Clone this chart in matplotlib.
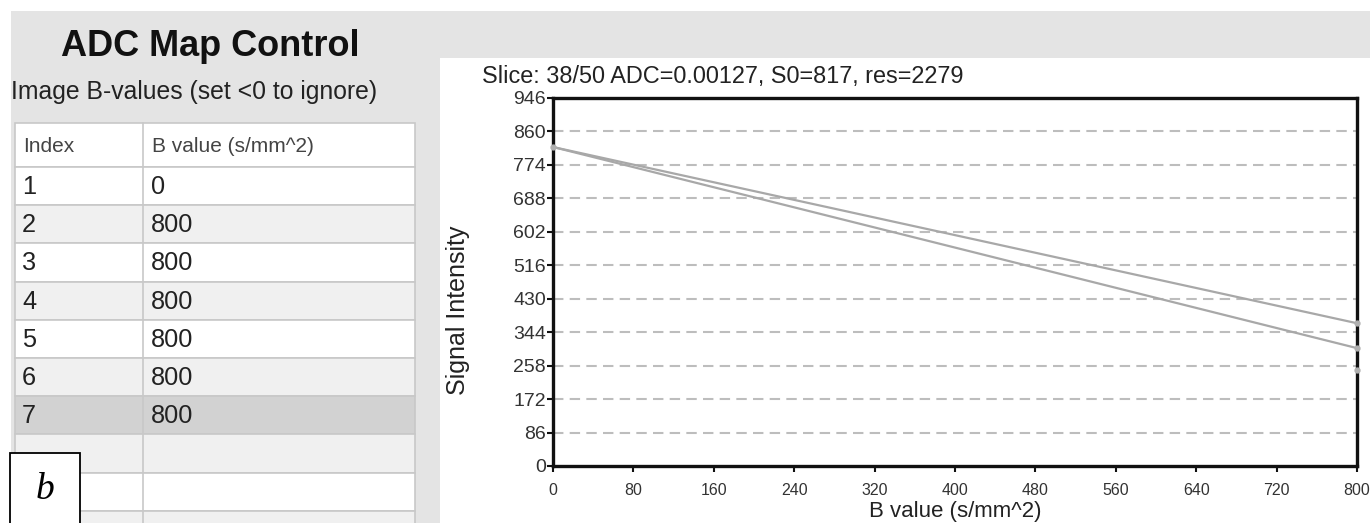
import numpy as np
import matplotlib.pyplot as plt
from matplotlib.patches import Rectangle

# table values
row_index = ['1', '2', '3', '4', '5', '6', '7']
b_values = [0, 800, 800, 800, 800, 800, 800]
selected_row = 7
n_empty_rows = 3

# chart values
b_points = [0, 800, 800, 800]
signal_points = [820, 367, 303, 247]
b_line = [0, 800]
signal_measured = [820, 367]
signal_fit = [820, 303]
y_ticks = [0, 86, 172, 258, 344, 430, 516, 602, 688, 774, 860, 946]
x_ticks = [0, 80, 160, 240, 320, 400, 480, 560, 640, 720, 800]
chart_title = 'Slice: 38/50 ADC=0.00127, S0=817, res=2279'

W, H = 1370, 523
plt.rcParams['font.family'] = ['Liberation Sans', 'DejaVu Sans']

fig = plt.figure(figsize=(W / 100, H / 100), dpi=100, facecolor='white')

# background in pixel coordinates
bg = fig.add_axes([0, 0, 1, 1])
bg.set_xlim(0, W)
bg.set_ylim(H, 0)
bg.axis('off')

bg.add_patch(Rectangle((11, 11), W - 11, H - 11, facecolor='#e4e4e4', edgecolor='none'))
bg.add_patch(Rectangle((440, 58), W - 440, H - 58, facecolor='white', edgecolor='none'))

bg.text(210, 46, 'ADC Map Control', fontsize=26, fontweight='bold', ha='center', va='center', color='#111111')
bg.text(11, 92, 'Image B-values (set <0 to ignore)', fontsize=17.8, ha='left', va='center', color='#222222')

# table
tx0, tx1, col_x = 15, 415, 143
hdr_top, hdr_bot = 123, 167
row_h = 38.2
grid_c = '#c8c8c8'

bg.add_patch(Rectangle((tx0, hdr_top), tx1 - tx0, hdr_bot - hdr_top, facecolor='white', edgecolor=grid_c, lw=1.2))
bg.text(23, 146, 'Index', fontsize=15, ha='left', va='center', color='#444444')
bg.text(152, 146, 'B value (s/mm^2)', fontsize=15, ha='left', va='center', color='#444444')

n_rows = len(row_index) + n_empty_rows
for i in range(n_rows):
    top = hdr_bot + i * row_h
    num = i + 1
    if num == selected_row:
        fc = '#d2d2d2'
    elif num % 2 == 0:
        fc = '#f0f0f0'
    else:
        fc = 'white'
    bg.add_patch(Rectangle((tx0, top), tx1 - tx0, row_h, facecolor=fc, edgecolor=grid_c, lw=1.2))
    if i < len(row_index):
        bg.text(22, top + row_h / 2 + 1, row_index[i], fontsize=18.3, ha='left', va='center', color='#222222')
        bg.text(151, top + row_h / 2 + 1, str(b_values[i]), fontsize=18.3, ha='left', va='center', color='#222222')
bg.plot([col_x, col_x], [hdr_top, H], color=grid_c, lw=1.2)

# panel label
bg.add_patch(Rectangle((10, 453), 70, 80, facecolor='white', edgecolor='black', lw=1.3, zorder=5))
bg.text(45, 490, 'b', fontsize=27, family='Liberation Serif', style='italic', ha='center', va='center', zorder=6)

# chart
left, right, top, bottom = 553, 1357, 98, 466
ax = fig.add_axes([left / W, (H - bottom) / H, (right - left) / W, (bottom - top) / H])
ax.set_xlim(0, 800)
ax.set_ylim(0, 946)
ax.set_facecolor('white')
for s in ax.spines.values():
    s.set_linewidth(2.4)
    s.set_color('#111111')

for yv in y_ticks[1:-1]:
    ax.axhline(yv, color='#bdbdbd', lw=1.5, ls=(0, (5, 3)), zorder=1)

ax.plot(b_line, signal_measured, color='#a8a8a8', lw=1.6, zorder=3)
ax.plot(b_line, signal_fit, color='#a8a8a8', lw=1.6, zorder=3)
ax.plot(b_points, signal_points, 'o', color='#b0b0b0', ms=3.5, zorder=4, clip_on=False)

ax.set_yticks(y_ticks)
ax.set_xticks(x_ticks)
ax.tick_params(axis='y', labelsize=14, length=4, width=1.5, colors='#111111', pad=1)
ax.tick_params(axis='x', labelsize=11.5, length=4, width=1.5, colors='#111111', pad=8)
for lab in ax.get_yticklabels() + ax.get_xticklabels():
    lab.set_color('#333333')

bg.text(482, 77, chart_title, fontsize=16.9, ha='left', va='center', color='#222222')
bg.text(458, 310, 'Signal Intensity', fontsize=18, rotation=90, ha='center', va='center', color='#222222')
bg.text(955, 517, 'B value (s/mm^2)', fontsize=16, ha='center', va='baseline', color='#222222')

fig.savefig('out.png', dpi=100, facecolor='white')
